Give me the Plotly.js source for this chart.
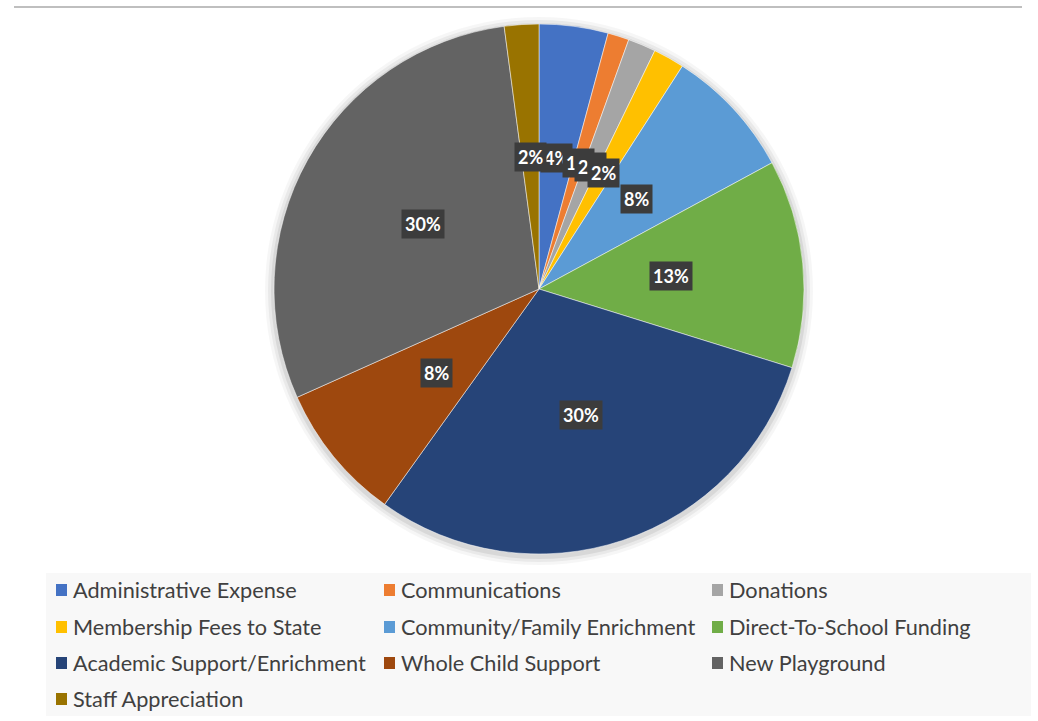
<!DOCTYPE html>
<html>
<head>
<meta charset="utf-8">
<script src="https://cdn.plot.ly/plotly-3.0.1.min.js"></script>
<style>
  html, body { margin: 0; padding: 0; background: #ffffff; }
  #chart { width: 1038px; height: 721px; }
</style>
</head>
<body>
<div id="chart"></div>
<script>
// ---- data ----
const categories = [
  "Administrative Expense", "Communications", "Donations",
  "Membership Fees to State", "Community/Family Enrichment", "Direct-To-School Funding",
  "Academic Support/Enrichment", "Whole Child Support", "New Playground",
  "Staff Appreciation"
];
const shares = [4.2, 1.3, 1.7, 1.9, 8.0, 12.7, 30.1, 8.4, 29.6, 2.1];
const colors = [
  "#4472C4", "#ED7D31", "#A5A5A5", "#FFC000", "#5B9BD5", "#70AD47",
  "#264478", "#9E480E", "#636363", "#997300"
];

// ---- layout constants ----
const W = 1038, H = 721;
const CX = 539, CY = 289, R = 265;         // pie center / radius (px)
const LABEL_R = 0.5;                        // label distance as a fraction of radius
const px = x => x / W;
const py = y => 1 - y / H;

const total = shares.reduce((a, b) => a + b, 0);

// data labels (placed at the middle angle of each slice)
const annotations = [];
let cum = 0;
shares.forEach((v, i) => {
  const mid = (cum + v / 2) / total * 2 * Math.PI;
  cum += v;
  const x = CX + LABEL_R * R * Math.sin(mid);
  const y = CY - LABEL_R * R * Math.cos(mid);
  annotations.push({
    xref: "paper", yref: "paper", x: px(x), y: py(y),
    xanchor: "center", yanchor: "middle", showarrow: false,
    text: Math.round(v / total * 100) + "%",
    font: { family: "Lato, 'Liberation Sans', sans-serif", size: 18, color: "#ffffff", weight: "bold" },
    bgcolor: "#3c3c3c", borderpad: 3
  });
});

// soft shadow behind the pie + top rule + legend panel
const shapes = [];
[[9, 0.035], [6, 0.05], [3, 0.07]].forEach(([d, op]) => {
  shapes.push({ type: "circle", xref: "paper", yref: "paper",
    x0: px(CX - R - d), x1: px(CX + R + d), y0: py(CY + R + d + 2), y1: py(CY - R - d + 2),
    fillcolor: "#000000", opacity: op, line: { width: 0 }, layer: "below" });
});
shapes.push(
  { type: "line", xref: "paper", yref: "paper", x0: px(14), x1: px(1022), y0: py(7), y1: py(7),
    line: { color: "#bfbfbf", width: 2 } },
  { type: "rect", xref: "paper", yref: "paper", x0: px(46), x1: px(1031), y0: py(573), y1: py(716),
    fillcolor: "#f8f8f8", line: { width: 0 }, layer: "below" }
);

// custom legend (3 columns x 4 rows)
const COL_X = [56, 384, 712], ROW_Y = [590, 627, 663, 699];
categories.forEach((name, i) => {
  const c = i % 3, r = Math.floor(i / 3);
  const sx = COL_X[c], sy = ROW_Y[r];
  shapes.push({ type: "rect", xref: "paper", yref: "paper",
    x0: px(sx), x1: px(sx + 11), y0: py(sy - 6), y1: py(sy + 6),
    fillcolor: colors[i], line: { width: 0 } });
  annotations.push({
    xref: "paper", yref: "paper", x: px(sx + 15), y: py(sy),
    xanchor: "left", yanchor: "middle", showarrow: false,
    text: name,
    font: { family: "Lato, 'Liberation Sans', sans-serif", size: 21.7, color: "#404040" }
  });
});

const data = [{
  type: "pie",
  labels: categories,
  values: shares,
  sort: false,
  direction: "clockwise",
  rotation: 0,
  marker: { colors: colors, line: { color: "#ffffff", width: 0.5 } },
  textinfo: "none",
  hoverinfo: "label+percent",
  domain: { x: [px(CX - R), px(CX + R)], y: [py(CY + R), py(CY - R)] },
  showlegend: false
}];

const layout = {
  width: W, height: H,
  margin: { l: 0, r: 0, t: 0, b: 0 },
  paper_bgcolor: "#ffffff",
  showlegend: false,
  shapes: shapes,
  annotations: annotations
};

Plotly.newPlot("chart", data, layout, { displayModeBar: false, staticPlot: true });
</script>
</body>
</html>
